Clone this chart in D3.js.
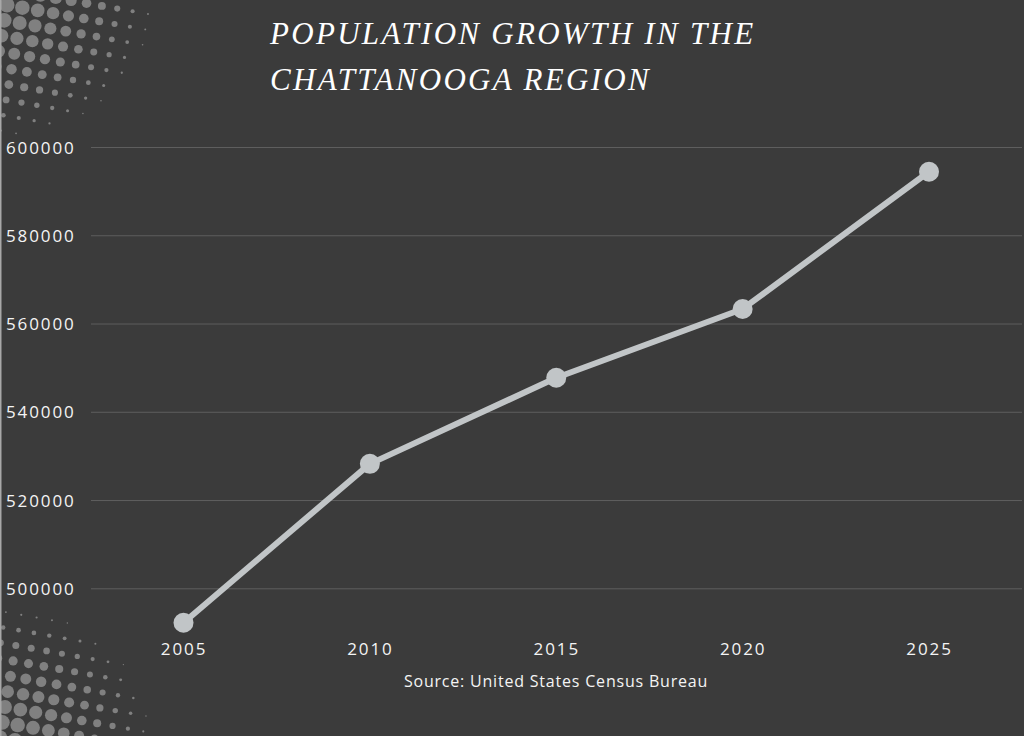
<!DOCTYPE html>
<html>
<head>
<meta charset="utf-8">
<script src="https://cdn.jsdelivr.net/npm/d3@7"></script>
<style>
  html, body { margin: 0; padding: 0; background: #3b3b3b; }
  svg { display: block; }
</style>
</head>
<body>
<svg id="chart" width="1024" height="736"></svg>
<script>
// data
var years = [2005, 2010, 2015, 2020, 2025];
var population = [492200, 528200, 547700, 563300, 594400];
var yTicks = [500000, 520000, 540000, 560000, 580000, 600000];
var titleLines = ["POPULATION GROWTH IN THE", "CHATTANOOGA REGION"];
var sourceText = "Source: United States Census Bureau";

var W = 1024, H = 736;
var L = 91, R = 1022;

var vis = d3.select("#chart");

vis.append("rect")
    .attr("width", W).attr("height", H)
    .attr("fill", "#3b3b3b");

// halftone dots in the two left corners (decoration)
function halftone(ox, oy, cx, cy, rx, ry, rmax) {
  var s = 15.6, th = 10 * Math.PI / 180;
  var ux = s * Math.cos(th), uy = s * Math.sin(th);
  var vx = -s * Math.sin(th), vy = s * Math.cos(th);
  var g = vis.append("g").attr("fill", "#808080");
  for (var i = -20; i <= 20; i++) {
    for (var j = -20; j <= 20; j++) {
      var x = ox + i * ux + j * vx;
      var y = oy + i * uy + j * vy;
      if (x < -10 || y < -10 || x > W + 10 || y > H + 10) continue;
      var d = Math.sqrt(Math.pow((x - cx) / rx, 2) + Math.pow((y - cy) / ry, 2));
      if (d >= 1) continue;
      var r = rmax * (1 - Math.pow(d, 1.6));
      if (r < 0.6) continue;
      g.append("circle").attr("cx", x).attr("cy", y).attr("r", r);
    }
  }
}
halftone(7, 5, 0, 0, 162, 145, 7.6);
halftone(5, 707, 0, 736, 157, 135, 7.6);

vis.append("rect")
    .attr("x", 0).attr("y", 0)
    .attr("width", 1.5).attr("height", H)
    .attr("fill", "#a8a8a8");

var xScale = d3.scaleLinear().domain([2005, 2025]).range([183.5, 929]);
var yScale = d3.scaleLinear().domain([500000, 600000]).range([588.3, 147]);

var labelFont = "'Open Sans', 'Noto Sans', sans-serif";

// y axis with gridlines
var yAxis = d3.axisLeft(yScale)
    .tickValues(yTicks)
    .tickFormat(d3.format("d"))
    .tickSize(-(R - L));

var gy = vis.append("g")
    .attr("transform", "translate(" + L + ",0)")
    .call(yAxis);
gy.select(".domain").remove();
gy.selectAll(".tick line")
    .attr("stroke", "#5e5e5e")
    .attr("stroke-width", 1);
gy.selectAll(".tick text")
    .attr("x", 6 - L)
    .attr("dy", "0.36em")
    .attr("text-anchor", "start")
    .attr("fill", "#f4f4f4")
    .style("font-family", labelFont)
    .style("font-size", "17px")
    .style("letter-spacing", "1.9px");

// x axis labels
var xAxis = d3.axisBottom(xScale)
    .tickValues(years)
    .tickFormat(d3.format("d"))
    .tickSize(0);

var gx = vis.append("g")
    .attr("transform", "translate(0,655)")
    .call(xAxis);
gx.select(".domain").remove();
gx.selectAll(".tick text")
    .attr("y", 0)
    .attr("dy", 0)
    .attr("fill", "#f4f4f4")
    .style("font-family", labelFont)
    .style("font-size", "17px")
    .style("letter-spacing", "1.9px");

// line and markers
var pts = years.map(function(y, i) { return [y, population[i]]; });

var lineGen = d3.line()
    .x(function(p) { return xScale(p[0]); })
    .y(function(p) { return yScale(p[1]); });

vis.append("path")
    .attr("d", lineGen(pts))
    .attr("stroke", "#c1c5c7")
    .attr("stroke-width", 6)
    .attr("stroke-linejoin", "round")
    .attr("fill", "none");

vis.selectAll("circle.pt")
    .data(pts)
    .enter().append("circle")
    .attr("class", "pt")
    .attr("cx", function(p) { return xScale(p[0]); })
    .attr("cy", function(p) { return yScale(p[1]); })
    .attr("r", 10)
    .attr("fill", "#c1c5c7");

// title
vis.selectAll("text.title")
    .data(titleLines)
    .enter().append("text")
    .attr("class", "title")
    .attr("x", 270)
    .attr("y", function(d, i) { return 44 + i * 46; })
    .attr("fill", "#ffffff")
    .style("font-family", "'Liberation Serif', 'DejaVu Serif', serif")
    .style("font-style", "italic")
    .style("font-size", "31px")
    .style("letter-spacing", "2.3px")
    .text(function(d) { return d; });

// source
vis.append("text")
    .attr("x", 556)
    .attr("y", 687)
    .attr("text-anchor", "middle")
    .attr("fill", "#f4f4f4")
    .style("font-family", labelFont)
    .style("font-size", "16px")
    .style("letter-spacing", "0.8px")
    .text(sourceText);
</script>
</body>
</html>
